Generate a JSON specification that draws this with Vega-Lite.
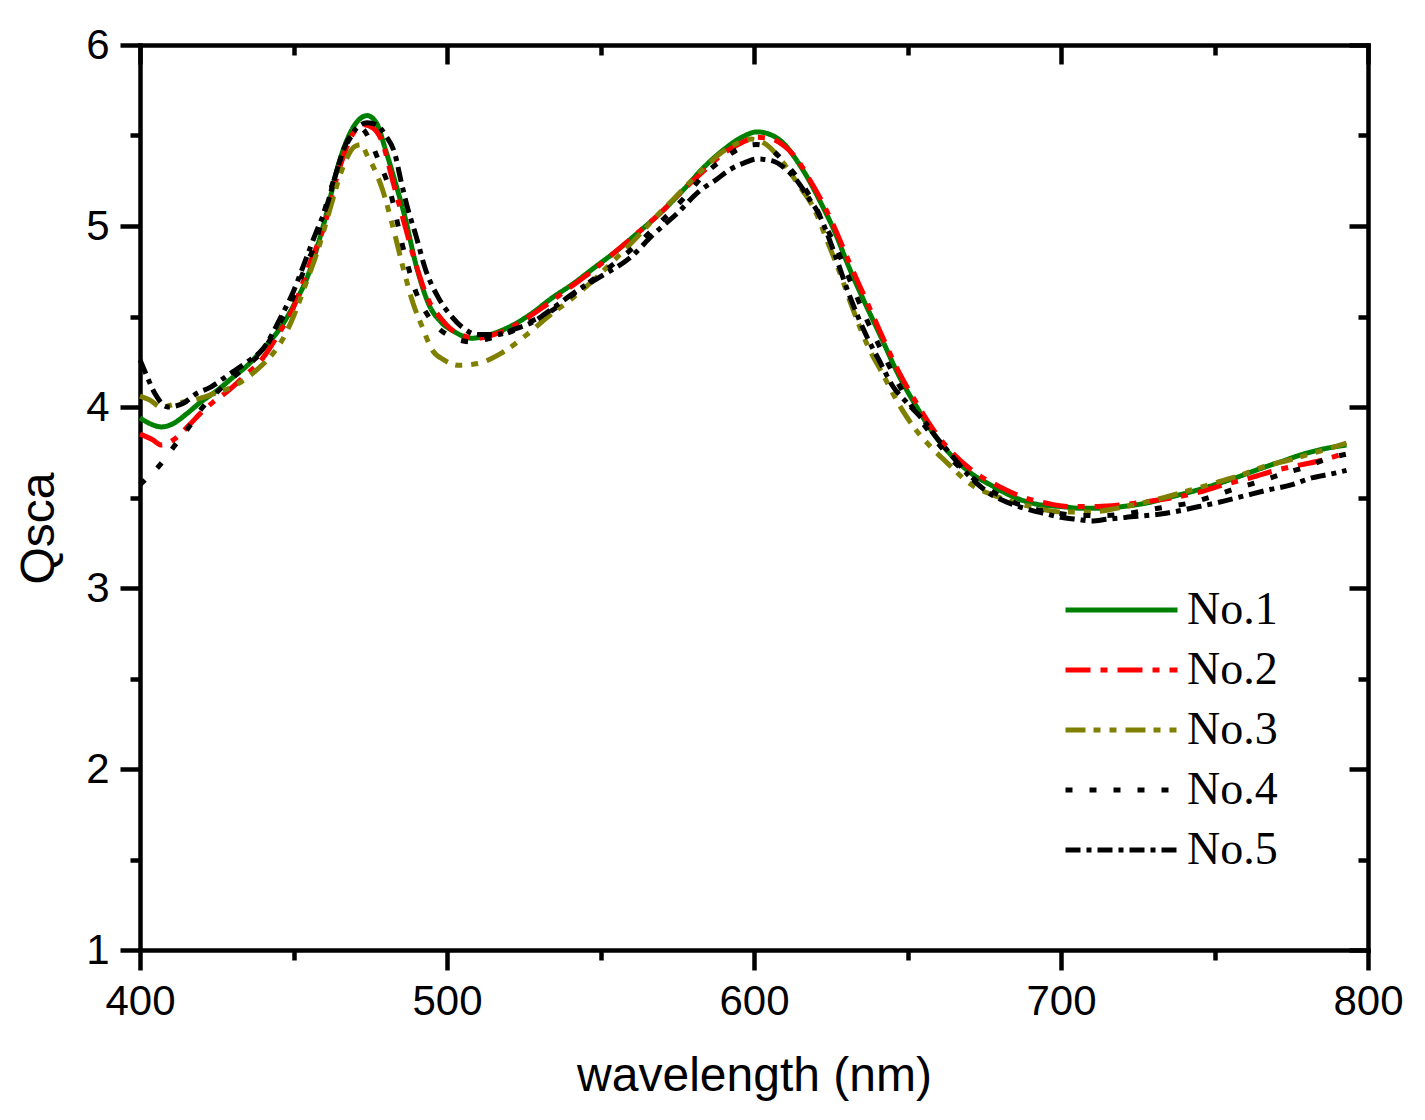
{
"$schema": "https://vega.github.io/schema/vega-lite/v6.json",
"width": 1228, "height": 905,
"autosize": {"type": "none"},
"padding": {"left": 140, "top": 45, "right": 57, "bottom": 170},
"background": "white",
"config": {
 "view": {"stroke": null},
 "axis": {"labelFont": "Liberation Sans", "titleFont": "Liberation Sans", "labelColor": "black", "titleColor": "black", "tickColor": "black", "domainColor": "black", "tickWidth": 4.5, "domainWidth": 4.5, "grid": false, "titleFontWeight": "normal", "labelFontSize": 42, "titleFontSize": 48, "domainCap": "square", "labelFlush": false, "labelOverlap": false}
},
"datasets": {
 "main": [
{"s":"No.1","wl":400,"q":3.94},{"s":"No.1","wl":403,"q":3.91},{"s":"No.1","wl":407,"q":3.89},{"s":"No.1","wl":411,"q":3.91},{"s":"No.1","wl":415,"q":3.96},{"s":"No.1","wl":420,"q":4.03},{"s":"No.1","wl":425,"q":4.09},{"s":"No.1","wl":430,"q":4.16},{"s":"No.1","wl":435,"q":4.23},{"s":"No.1","wl":440,"q":4.32},{"s":"No.1","wl":445,"q":4.42},{"s":"No.1","wl":450,"q":4.56},{"s":"No.1","wl":455,"q":4.74},{"s":"No.1","wl":460,"q":5.02},{"s":"No.1","wl":465,"q":5.36},{"s":"No.1","wl":470,"q":5.56},{"s":"No.1","wl":474,"q":5.61},{"s":"No.1","wl":477,"q":5.57},{"s":"No.1","wl":480,"q":5.42},{"s":"No.1","wl":483,"q":5.25},{"s":"No.1","wl":486,"q":5.07},{"s":"No.1","wl":490,"q":4.78},{"s":"No.1","wl":494,"q":4.57},{"s":"No.1","wl":498,"q":4.47},{"s":"No.1","wl":502,"q":4.42},{"s":"No.1","wl":508,"q":4.38},{"s":"No.1","wl":514,"q":4.40},{"s":"No.1","wl":520,"q":4.44},{"s":"No.1","wl":527,"q":4.51},{"s":"No.1","wl":534,"q":4.60},{"s":"No.1","wl":541,"q":4.68},{"s":"No.1","wl":548,"q":4.77},{"s":"No.1","wl":555,"q":4.86},{"s":"No.1","wl":562,"q":4.96},{"s":"No.1","wl":570,"q":5.08},{"s":"No.1","wl":577,"q":5.20},{"s":"No.1","wl":584,"q":5.33},{"s":"No.1","wl":590,"q":5.42},{"s":"No.1","wl":596,"q":5.49},{"s":"No.1","wl":601,"q":5.52},{"s":"No.1","wl":606,"q":5.50},{"s":"No.1","wl":610,"q":5.45},{"s":"No.1","wl":614,"q":5.36},{"s":"No.1","wl":618,"q":5.25},{"s":"No.1","wl":622,"q":5.12},{"s":"No.1","wl":626,"q":4.98},{"s":"No.1","wl":631,"q":4.77},{"s":"No.1","wl":636,"q":4.58},{"s":"No.1","wl":641,"q":4.40},{"s":"No.1","wl":647,"q":4.18},{"s":"No.1","wl":653,"q":4.00},{"s":"No.1","wl":659,"q":3.84},{"s":"No.1","wl":665,"q":3.72},{"s":"No.1","wl":671,"q":3.63},{"s":"No.1","wl":677,"q":3.57},{"s":"No.1","wl":685,"q":3.50},{"s":"No.1","wl":693,"q":3.46},{"s":"No.1","wl":700,"q":3.45},{"s":"No.1","wl":707,"q":3.44},{"s":"No.1","wl":714,"q":3.44},{"s":"No.1","wl":720,"q":3.45},{"s":"No.1","wl":728,"q":3.47},{"s":"No.1","wl":735,"q":3.50},{"s":"No.1","wl":742,"q":3.53},{"s":"No.1","wl":750,"q":3.57},{"s":"No.1","wl":757,"q":3.61},{"s":"No.1","wl":765,"q":3.66},{"s":"No.1","wl":772,"q":3.70},{"s":"No.1","wl":779,"q":3.74},{"s":"No.1","wl":786,"q":3.77},{"s":"No.1","wl":793,"q":3.79},
{"s":"No.2","wl":400,"q":3.85},{"s":"No.2","wl":404,"q":3.82},{"s":"No.2","wl":407,"q":3.79},{"s":"No.2","wl":411,"q":3.82},{"s":"No.2","wl":416,"q":3.90},{"s":"No.2","wl":420,"q":3.97},{"s":"No.2","wl":424,"q":4.03},{"s":"No.2","wl":428,"q":4.08},{"s":"No.2","wl":434,"q":4.17},{"s":"No.2","wl":440,"q":4.27},{"s":"No.2","wl":445,"q":4.40},{"s":"No.2","wl":450,"q":4.55},{"s":"No.2","wl":455,"q":4.78},{"s":"No.2","wl":460,"q":5.00},{"s":"No.2","wl":465,"q":5.32},{"s":"No.2","wl":469,"q":5.50},{"s":"No.2","wl":473,"q":5.56},{"s":"No.2","wl":476,"q":5.54},{"s":"No.2","wl":479,"q":5.46},{"s":"No.2","wl":482,"q":5.27},{"s":"No.2","wl":486,"q":5.02},{"s":"No.2","wl":490,"q":4.78},{"s":"No.2","wl":494,"q":4.59},{"s":"No.2","wl":498,"q":4.49},{"s":"No.2","wl":503,"q":4.41},{"s":"No.2","wl":510,"q":4.38},{"s":"No.2","wl":517,"q":4.41},{"s":"No.2","wl":525,"q":4.48},{"s":"No.2","wl":532,"q":4.56},{"s":"No.2","wl":540,"q":4.66},{"s":"No.2","wl":548,"q":4.76},{"s":"No.2","wl":555,"q":4.86},{"s":"No.2","wl":562,"q":4.96},{"s":"No.2","wl":570,"q":5.08},{"s":"No.2","wl":577,"q":5.20},{"s":"No.2","wl":584,"q":5.31},{"s":"No.2","wl":590,"q":5.40},{"s":"No.2","wl":596,"q":5.46},{"s":"No.2","wl":601,"q":5.49},{"s":"No.2","wl":606,"q":5.48},{"s":"No.2","wl":610,"q":5.44},{"s":"No.2","wl":614,"q":5.37},{"s":"No.2","wl":618,"q":5.26},{"s":"No.2","wl":622,"q":5.14},{"s":"No.2","wl":626,"q":5.00},{"s":"No.2","wl":631,"q":4.80},{"s":"No.2","wl":636,"q":4.61},{"s":"No.2","wl":641,"q":4.42},{"s":"No.2","wl":647,"q":4.20},{"s":"No.2","wl":653,"q":4.02},{"s":"No.2","wl":659,"q":3.86},{"s":"No.2","wl":665,"q":3.74},{"s":"No.2","wl":671,"q":3.65},{"s":"No.2","wl":680,"q":3.56},{"s":"No.2","wl":688,"q":3.50},{"s":"No.2","wl":695,"q":3.47},{"s":"No.2","wl":703,"q":3.45},{"s":"No.2","wl":712,"q":3.45},{"s":"No.2","wl":720,"q":3.46},{"s":"No.2","wl":729,"q":3.48},{"s":"No.2","wl":737,"q":3.50},{"s":"No.2","wl":745,"q":3.53},{"s":"No.2","wl":753,"q":3.57},{"s":"No.2","wl":762,"q":3.61},{"s":"No.2","wl":770,"q":3.65},{"s":"No.2","wl":778,"q":3.68},{"s":"No.2","wl":786,"q":3.71},{"s":"No.2","wl":793,"q":3.75},
{"s":"No.3","wl":400,"q":4.06},{"s":"No.3","wl":403,"q":4.04},{"s":"No.3","wl":407,"q":4.00},{"s":"No.3","wl":412,"q":4.02},{"s":"No.3","wl":420,"q":4.05},{"s":"No.3","wl":425,"q":4.08},{"s":"No.3","wl":430,"q":4.11},{"s":"No.3","wl":437,"q":4.19},{"s":"No.3","wl":442,"q":4.27},{"s":"No.3","wl":446,"q":4.36},{"s":"No.3","wl":450,"q":4.50},{"s":"No.3","wl":454,"q":4.68},{"s":"No.3","wl":458,"q":4.87},{"s":"No.3","wl":462,"q":5.10},{"s":"No.3","wl":466,"q":5.32},{"s":"No.3","wl":470,"q":5.44},{"s":"No.3","wl":472,"q":5.45},{"s":"No.3","wl":474,"q":5.39},{"s":"No.3","wl":477,"q":5.29},{"s":"No.3","wl":479,"q":5.20},{"s":"No.3","wl":482,"q":5.02},{"s":"No.3","wl":486,"q":4.75},{"s":"No.3","wl":489,"q":4.57},{"s":"No.3","wl":492,"q":4.44},{"s":"No.3","wl":495,"q":4.32},{"s":"No.3","wl":499,"q":4.26},{"s":"No.3","wl":504,"q":4.23},{"s":"No.3","wl":510,"q":4.24},{"s":"No.3","wl":518,"q":4.30},{"s":"No.3","wl":526,"q":4.40},{"s":"No.3","wl":533,"q":4.50},{"s":"No.3","wl":540,"q":4.59},{"s":"No.3","wl":547,"q":4.69},{"s":"No.3","wl":555,"q":4.82},{"s":"No.3","wl":562,"q":4.94},{"s":"No.3","wl":568,"q":5.05},{"s":"No.3","wl":575,"q":5.17},{"s":"No.3","wl":582,"q":5.29},{"s":"No.3","wl":589,"q":5.40},{"s":"No.3","wl":595,"q":5.46},{"s":"No.3","wl":599,"q":5.48},{"s":"No.3","wl":604,"q":5.45},{"s":"No.3","wl":609,"q":5.36},{"s":"No.3","wl":614,"q":5.24},{"s":"No.3","wl":620,"q":5.08},{"s":"No.3","wl":624,"q":4.91},{"s":"No.3","wl":628,"q":4.74},{"s":"No.3","wl":632,"q":4.55},{"s":"No.3","wl":637,"q":4.34},{"s":"No.3","wl":642,"q":4.18},{"s":"No.3","wl":647,"q":4.02},{"s":"No.3","wl":652,"q":3.89},{"s":"No.3","wl":657,"q":3.79},{"s":"No.3","wl":663,"q":3.69},{"s":"No.3","wl":670,"q":3.58},{"s":"No.3","wl":680,"q":3.50},{"s":"No.3","wl":690,"q":3.45},{"s":"No.3","wl":700,"q":3.42},{"s":"No.3","wl":710,"q":3.42},{"s":"No.3","wl":718,"q":3.44},{"s":"No.3","wl":729,"q":3.48},{"s":"No.3","wl":742,"q":3.54},{"s":"No.3","wl":750,"q":3.58},{"s":"No.3","wl":758,"q":3.62},{"s":"No.3","wl":766,"q":3.67},{"s":"No.3","wl":775,"q":3.71},{"s":"No.3","wl":783,"q":3.75},{"s":"No.3","wl":793,"q":3.80},
{"s":"No.4","wl":400,"q":3.57},{"s":"No.4","wl":403,"q":3.62},{"s":"No.4","wl":406,"q":3.67},{"s":"No.4","wl":411,"q":3.78},{"s":"No.4","wl":416,"q":3.89},{"s":"No.4","wl":420,"q":3.99},{"s":"No.4","wl":425,"q":4.08},{"s":"No.4","wl":430,"q":4.16},{"s":"No.4","wl":435,"q":4.23},{"s":"No.4","wl":440,"q":4.31},{"s":"No.4","wl":445,"q":4.45},{"s":"No.4","wl":450,"q":4.61},{"s":"No.4","wl":454,"q":4.78},{"s":"No.4","wl":457,"q":4.90},{"s":"No.4","wl":460,"q":5.08},{"s":"No.4","wl":463,"q":5.25},{"s":"No.4","wl":466,"q":5.40},{"s":"No.4","wl":469,"q":5.50},{"s":"No.4","wl":472,"q":5.54},{"s":"No.4","wl":475,"q":5.47},{"s":"No.4","wl":478,"q":5.35},{"s":"No.4","wl":481,"q":5.22},{"s":"No.4","wl":486,"q":4.86},{"s":"No.4","wl":490,"q":4.63},{"s":"No.4","wl":494,"q":4.50},{"s":"No.4","wl":500,"q":4.40},{"s":"No.4","wl":508,"q":4.36},{"s":"No.4","wl":514,"q":4.38},{"s":"No.4","wl":520,"q":4.41},{"s":"No.4","wl":527,"q":4.47},{"s":"No.4","wl":533,"q":4.52},{"s":"No.4","wl":541,"q":4.62},{"s":"No.4","wl":548,"q":4.71},{"s":"No.4","wl":555,"q":4.80},{"s":"No.4","wl":562,"q":4.90},{"s":"No.4","wl":567,"q":4.98},{"s":"No.4","wl":573,"q":5.08},{"s":"No.4","wl":578,"q":5.17},{"s":"No.4","wl":583,"q":5.27},{"s":"No.4","wl":590,"q":5.37},{"s":"No.4","wl":597,"q":5.44},{"s":"No.4","wl":601,"q":5.45},{"s":"No.4","wl":605,"q":5.43},{"s":"No.4","wl":610,"q":5.35},{"s":"No.4","wl":614,"q":5.27},{"s":"No.4","wl":618,"q":5.17},{"s":"No.4","wl":622,"q":5.04},{"s":"No.4","wl":626,"q":4.91},{"s":"No.4","wl":631,"q":4.71},{"s":"No.4","wl":636,"q":4.51},{"s":"No.4","wl":641,"q":4.33},{"s":"No.4","wl":647,"q":4.13},{"s":"No.4","wl":653,"q":3.96},{"s":"No.4","wl":659,"q":3.82},{"s":"No.4","wl":665,"q":3.70},{"s":"No.4","wl":671,"q":3.61},{"s":"No.4","wl":677,"q":3.54},{"s":"No.4","wl":685,"q":3.47},{"s":"No.4","wl":693,"q":3.43},{"s":"No.4","wl":700,"q":3.41},{"s":"No.4","wl":707,"q":3.40},{"s":"No.4","wl":714,"q":3.40},{"s":"No.4","wl":721,"q":3.41},{"s":"No.4","wl":728,"q":3.43},{"s":"No.4","wl":735,"q":3.45},{"s":"No.4","wl":742,"q":3.47},{"s":"No.4","wl":750,"q":3.51},{"s":"No.4","wl":757,"q":3.55},{"s":"No.4","wl":765,"q":3.59},{"s":"No.4","wl":772,"q":3.63},{"s":"No.4","wl":780,"q":3.67},{"s":"No.4","wl":786,"q":3.71},{"s":"No.4","wl":793,"q":3.74},
{"s":"No.5","wl":400,"q":4.26},{"s":"No.5","wl":402,"q":4.18},{"s":"No.5","wl":405,"q":4.07},{"s":"No.5","wl":409,"q":4.00},{"s":"No.5","wl":414,"q":4.02},{"s":"No.5","wl":418,"q":4.07},{"s":"No.5","wl":423,"q":4.11},{"s":"No.5","wl":429,"q":4.18},{"s":"No.5","wl":435,"q":4.25},{"s":"No.5","wl":440,"q":4.32},{"s":"No.5","wl":446,"q":4.50},{"s":"No.5","wl":450,"q":4.64},{"s":"No.5","wl":453,"q":4.77},{"s":"No.5","wl":457,"q":4.95},{"s":"No.5","wl":461,"q":5.12},{"s":"No.5","wl":464,"q":5.30},{"s":"No.5","wl":467,"q":5.45},{"s":"No.5","wl":470,"q":5.53},{"s":"No.5","wl":474,"q":5.57},{"s":"No.5","wl":477,"q":5.56},{"s":"No.5","wl":480,"q":5.50},{"s":"No.5","wl":483,"q":5.40},{"s":"No.5","wl":485,"q":5.25},{"s":"No.5","wl":487,"q":5.11},{"s":"No.5","wl":490,"q":4.94},{"s":"No.5","wl":493,"q":4.76},{"s":"No.5","wl":497,"q":4.61},{"s":"No.5","wl":501,"q":4.51},{"s":"No.5","wl":505,"q":4.44},{"s":"No.5","wl":510,"q":4.40},{"s":"No.5","wl":516,"q":4.40},{"s":"No.5","wl":522,"q":4.43},{"s":"No.5","wl":528,"q":4.47},{"s":"No.5","wl":534,"q":4.54},{"s":"No.5","wl":543,"q":4.65},{"s":"No.5","wl":551,"q":4.73},{"s":"No.5","wl":560,"q":4.83},{"s":"No.5","wl":567,"q":4.95},{"s":"No.5","wl":575,"q":5.07},{"s":"No.5","wl":582,"q":5.19},{"s":"No.5","wl":588,"q":5.26},{"s":"No.5","wl":592,"q":5.31},{"s":"No.5","wl":597,"q":5.35},{"s":"No.5","wl":601,"q":5.37},{"s":"No.5","wl":606,"q":5.36},{"s":"No.5","wl":610,"q":5.32},{"s":"No.5","wl":614,"q":5.25},{"s":"No.5","wl":618,"q":5.15},{"s":"No.5","wl":621,"q":5.07},{"s":"No.5","wl":626,"q":4.86},{"s":"No.5","wl":631,"q":4.62},{"s":"No.5","wl":637,"q":4.38},{"s":"No.5","wl":641,"q":4.25},{"s":"No.5","wl":645,"q":4.12},{"s":"No.5","wl":650,"q":4.02},{"s":"No.5","wl":655,"q":3.93},{"s":"No.5","wl":660,"q":3.82},{"s":"No.5","wl":665,"q":3.72},{"s":"No.5","wl":670,"q":3.62},{"s":"No.5","wl":677,"q":3.52},{"s":"No.5","wl":683,"q":3.47},{"s":"No.5","wl":688,"q":3.44},{"s":"No.5","wl":695,"q":3.41},{"s":"No.5","wl":700,"q":3.39},{"s":"No.5","wl":705,"q":3.38},{"s":"No.5","wl":710,"q":3.37},{"s":"No.5","wl":715,"q":3.38},{"s":"No.5","wl":721,"q":3.39},{"s":"No.5","wl":733,"q":3.41},{"s":"No.5","wl":745,"q":3.45},{"s":"No.5","wl":753,"q":3.48},{"s":"No.5","wl":760,"q":3.51},{"s":"No.5","wl":767,"q":3.54},{"s":"No.5","wl":775,"q":3.57},{"s":"No.5","wl":782,"q":3.61},{"s":"No.5","wl":788,"q":3.63},{"s":"No.5","wl":793,"q":3.65}
 ]
},
"data": {"name": "main"},
"layer": [
 {
  "mark": {"type": "line", "strokeWidth": 5, "interpolate": "monotone"},
  "encoding": {
   "x": {"field": "wl", "type": "quantitative", "scale": {"domain": [400, 800], "nice": false, "zero": false},
     "axis": {"orient": "bottom", "values": [400, 500, 600, 700, 800], "tickSize": 20, "labelPadding": 11, "title": "wavelength (nm)", "titleX": 614, "titleY": 140, "titleBaseline": "alphabetic"}},
   "y": {"field": "q", "type": "quantitative", "scale": {"domain": [1, 6], "nice": false, "zero": false},
     "axis": {"orient": "left", "values": [1, 2, 3, 4, 5, 6], "tickSize": 20, "labelPadding": 11, "title": "Qsca", "titleX": -87, "titleY": 483, "titleBaseline": "alphabetic"}},
   "color": {"field": "s", "type": "nominal",
     "scale": {"domain": ["No.1", "No.2", "No.3", "No.4", "No.5"], "range": ["#008000", "#ff0000", "#808000", "#000000", "#000000"]},
     "legend": {"orient": "none", "legendX": 923, "legendY": 540, "title": null, "symbolType": "stroke", "symbolSize": 12544, "symbolStrokeWidth": 5, "labelFont": "Liberation Serif", "labelFontSize": 46, "labelColor": "black", "clipHeight": 50, "rowPadding": 10, "labelOffset": 7, "padding": 0, "symbolOffset": 0}},
   "strokeDash": {"field": "s", "type": "nominal",
     "scale": {"domain": ["No.1", "No.2", "No.3", "No.4", "No.5"], "range": [[1, 0], [25, 10, 7, 10], [20, 8, 7, 9, 7, 9], [7, 17], [15, 6, 5, 6]]},
     "legend": {"orient": "none", "legendX": 923, "legendY": 540, "title": null, "symbolType": "stroke", "symbolSize": 12544, "symbolStrokeWidth": 5, "labelFont": "Liberation Serif", "labelFontSize": 46, "labelColor": "black", "clipHeight": 50, "rowPadding": 10, "labelOffset": 7, "padding": 0, "symbolOffset": 0}}
  }
 },
 {
  "mark": {"type": "line", "opacity": 0},
  "encoding": {
   "x": {"field": "wl", "type": "quantitative", "axis": {"orient": "bottom", "values": [450, 550, 650, 750], "tickSize": 10, "labels": false, "domain": false, "title": null}},
   "y": {"field": "q", "type": "quantitative", "axis": {"orient": "left", "values": [1.5, 2.5, 3.5, 4.5, 5.5], "tickSize": 10, "labels": false, "domain": false, "title": null}}
  }
 },
 {
  "mark": {"type": "line", "opacity": 0},
  "encoding": {
   "x": {"field": "wl", "type": "quantitative", "axis": {"orient": "top", "values": [400, 500, 600, 700, 800], "tickSize": -19, "labels": false, "domain": true, "title": null}},
   "y": {"field": "q", "type": "quantitative", "axis": {"orient": "right", "values": [1, 2, 3, 4, 5, 6], "tickSize": -19, "labels": false, "domain": true, "title": null}}
  }
 },
 {
  "mark": {"type": "line", "opacity": 0},
  "encoding": {
   "x": {"field": "wl", "type": "quantitative", "axis": {"orient": "top", "values": [450, 550, 650, 750], "tickSize": -10, "labels": false, "domain": false, "title": null}},
   "y": {"field": "q", "type": "quantitative", "axis": {"orient": "right", "values": [1.5, 2.5, 3.5, 4.5, 5.5], "tickSize": -10, "labels": false, "domain": false, "title": null}}
  }
 }
],
"resolve": {"axis": {"x": "independent", "y": "independent"}}
}
